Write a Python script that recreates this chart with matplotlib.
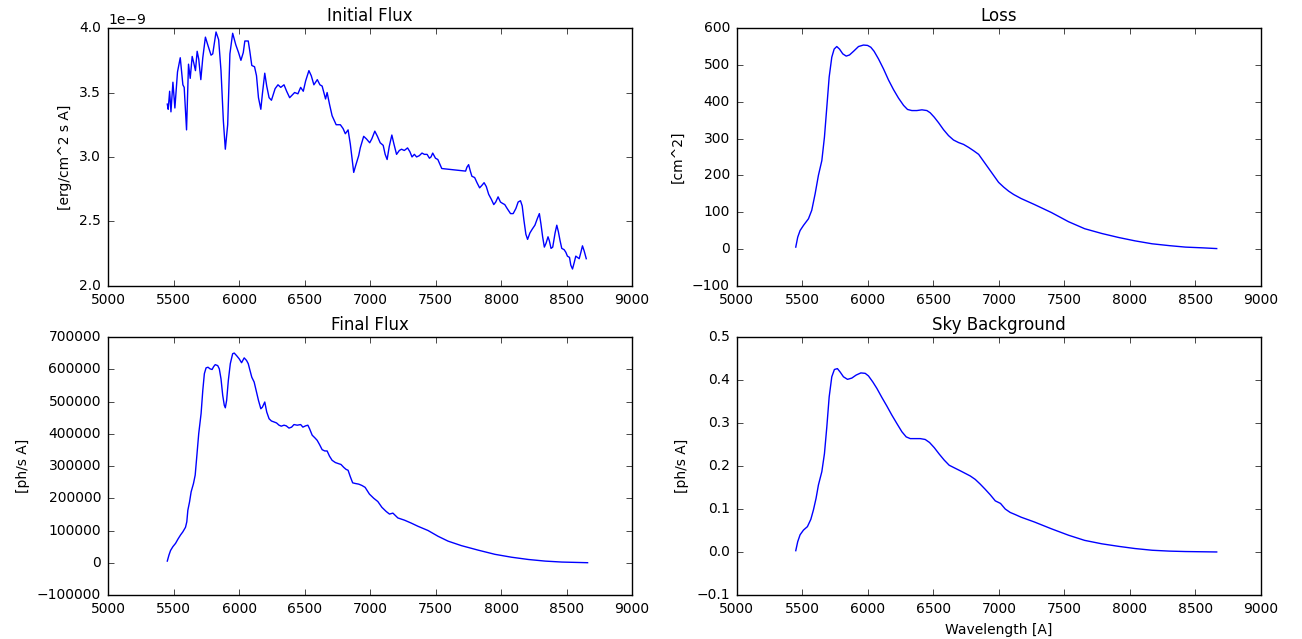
import numpy as np
import matplotlib
matplotlib.use("Agg")
import matplotlib.pyplot as plt

# initial flux (units of 1e-9 erg/cm^2 s A)
wave_init = [5452, 5459, 5470, 5480, 5495, 5510, 5530, 5551, 5571, 5581, 5599, 5614,
             5627, 5642, 5654, 5667, 5680, 5692, 5708, 5723, 5743, 5761, 5786, 5799,
             5824, 5844, 5862, 5880, 5895, 5913, 5930, 5951, 5975, 5996, 6014, 6032,
             6044, 6070, 6082, 6097, 6118, 6133, 6148, 6166, 6178, 6196, 6211, 6229,
             6247, 6275, 6297, 6318, 6343, 6363, 6386, 6424, 6449, 6470, 6490, 6508,
             6533, 6551, 6571, 6597, 6617, 6634, 6647, 6660, 6672, 6690, 6710, 6741,
             6773, 6794, 6811, 6832, 6849, 6875, 6892, 6913, 6925, 6951, 6972, 6997,
             7013, 7036, 7056, 7077, 7100, 7115, 7130, 7146, 7166, 7182, 7202, 7223,
             7240, 7261, 7286, 7304, 7320, 7338, 7355, 7376, 7396, 7414, 7435, 7453,
             7465, 7478, 7499, 7517, 7547, 7729, 7739, 7752, 7765, 7777, 7798, 7816,
             7836, 7854, 7870, 7887, 7905, 7926, 7944, 7959, 7977, 7995, 8010, 8028,
             8046, 8072, 8092, 8113, 8130, 8148, 8161, 8174, 8189, 8202, 8220, 8238,
             8258, 8276, 8292, 8304, 8317, 8330, 8343, 8358, 8368, 8381, 8394, 8412,
             8425, 8437, 8450, 8463, 8481, 8494, 8506, 8522, 8532, 8545, 8558, 8570,
             8583, 8596, 8609, 8621, 8634, 8650]
flux_init = [3.41, 3.37, 3.51, 3.35, 3.58, 3.38, 3.66, 3.77, 3.56, 3.54, 3.21, 3.72,
             3.61, 3.78, 3.73, 3.67, 3.82, 3.76, 3.60, 3.77, 3.93, 3.87, 3.79, 3.80,
             3.97, 3.91, 3.67, 3.28, 3.06, 3.25, 3.80, 3.96, 3.87, 3.81, 3.75, 3.81,
             3.90, 3.90, 3.82, 3.71, 3.70, 3.63, 3.46, 3.37, 3.49, 3.65, 3.55, 3.46,
             3.44, 3.53, 3.56, 3.54, 3.56, 3.51, 3.46, 3.50, 3.49, 3.54, 3.51, 3.59,
             3.67, 3.63, 3.56, 3.60, 3.56, 3.55, 3.50, 3.45, 3.50, 3.41, 3.32, 3.25,
             3.25, 3.22, 3.18, 3.21, 3.10, 2.88, 2.94, 3.01, 3.07, 3.16, 3.14, 3.11,
             3.14, 3.20, 3.16, 3.11, 3.09, 3.02, 2.98, 3.08, 3.17, 3.10, 3.02, 3.05,
             3.06, 3.05, 3.07, 3.04, 3.00, 3.02, 3.00, 3.01, 3.03, 3.02, 3.02, 2.99,
             3.00, 3.03, 2.99, 2.98, 2.91, 2.89, 2.92, 2.94, 2.89, 2.85, 2.84, 2.80,
             2.76, 2.78, 2.80, 2.77, 2.71, 2.67, 2.63, 2.65, 2.69, 2.65, 2.64, 2.63,
             2.60, 2.56, 2.56, 2.60, 2.65, 2.66, 2.62, 2.51, 2.40, 2.36, 2.41, 2.44,
             2.47, 2.52, 2.56, 2.48, 2.38, 2.30, 2.33, 2.38, 2.35, 2.29, 2.30, 2.41,
             2.47, 2.42, 2.35, 2.29, 2.28, 2.26, 2.23, 2.22, 2.16, 2.13, 2.18, 2.23,
             2.22, 2.21, 2.26, 2.31, 2.27, 2.21]

# loss [cm^2]
wave_loss = [5449, 5464, 5482, 5508, 5546, 5571, 5597, 5622, 5648, 5668, 5686, 5704,
             5724, 5742, 5762, 5783, 5808, 5834, 5859, 5890, 5928, 5966, 5997, 6022,
             6047, 6081, 6119, 6157, 6195, 6233, 6272, 6302, 6335, 6373, 6412, 6450,
             6475, 6506, 6539, 6577, 6615, 6653, 6692, 6730, 6768, 6806, 6845, 6883,
             6921, 6959, 6997, 7036, 7074, 7112, 7169, 7269, 7400, 7531, 7654, 7785,
             7915, 8038, 8169, 8300, 8423, 8554, 8662]
loss = [5, 32, 50, 64, 82, 105, 150, 200, 240, 304, 385, 467,
        521, 543, 550, 543, 530, 524, 527, 537, 550, 554, 553, 548,
        537, 516, 489, 459, 433, 410, 390, 379, 376, 376, 378, 376,
        370, 358, 343, 324, 308, 296, 289, 284, 276, 267, 257, 238,
        219, 200, 181, 168, 157, 148, 137, 121, 99, 74, 55, 42,
        31, 22, 14, 9, 5, 3, 1]

# final flux [ph/s A]
wave_final = [5452, 5465, 5477, 5495, 5515, 5533, 5553, 5571, 5591, 5601, 5609, 5622,
              5634, 5652, 5665, 5677, 5692, 5710, 5723, 5735, 5748, 5763, 5778, 5794,
              5806, 5818, 5837, 5849, 5862, 5875, 5887, 5895, 5905, 5918, 5933, 5951,
              5963, 5981, 6001, 6019, 6039, 6057, 6070, 6082, 6097, 6115, 6133, 6148,
              6166, 6178, 6196, 6211, 6229, 6247, 6267, 6286, 6305, 6322, 6343, 6360,
              6381, 6401, 6419, 6444, 6470, 6487, 6508, 6525, 6538, 6558, 6578, 6596,
              6614, 6634, 6654, 6672, 6690, 6710, 6735, 6756, 6778, 6799, 6816, 6832,
              6849, 6867, 6887, 6913, 6937, 6962, 6995, 7028, 7059, 7090, 7123, 7148,
              7174, 7212, 7263, 7314, 7366, 7442, 7519, 7595, 7697, 7825, 7953, 8080,
              8208, 8336, 8464, 8660]
final_flux = [5e3, 24e3, 38e3, 50e3, 60e3, 73e3, 86e3, 96e3, 110e3, 127e3, 163e3, 189e3,
              220e3, 246e3, 272e3, 329e3, 401e3, 463e3, 535e3, 587e3, 605e3, 607e3, 602e3, 600e3,
              609e3, 615e3, 612e3, 602e3, 571e3, 520e3, 489e3, 481e3, 504e3, 566e3, 618e3, 649e3,
              651e3, 643e3, 633e3, 621e3, 636e3, 628e3, 618e3, 599e3, 576e3, 561e3, 530e3, 504e3,
              478e3, 483e3, 499e3, 468e3, 447e3, 440e3, 437e3, 434e3, 427e3, 424e3, 427e3, 425e3,
              418e3, 421e3, 429e3, 427e3, 429e3, 421e3, 425e3, 427e3, 416e3, 396e3, 388e3, 380e3,
              367e3, 351e3, 347e3, 347e3, 331e3, 318e3, 311e3, 308e3, 305e3, 296e3, 290e3, 287e3,
              267e3, 248e3, 246e3, 244e3, 240e3, 234e3, 213e3, 200e3, 190e3, 172e3, 159e3, 151e3,
              154e3, 139e3, 132e3, 123e3, 113e3, 100e3, 82e3, 67e3, 53e3, 39e3, 26e3, 17e3,
              10e3, 5e3, 2e3, 0]

# sky background [ph/s A]
wave_sky = [5449, 5464, 5482, 5508, 5538, 5564, 5584, 5604, 5622, 5648, 5668, 5686,
            5704, 5724, 5744, 5767, 5788, 5813, 5844, 5877, 5910, 5946, 5979, 6004,
            6037, 6068, 6106, 6144, 6182, 6221, 6259, 6292, 6323, 6361, 6399, 6437,
            6470, 6506, 6544, 6582, 6620, 6659, 6705, 6743, 6781, 6819, 6857, 6895,
            6934, 6972, 7012, 7048, 7086, 7125, 7169, 7269, 7400, 7531, 7654, 7785,
            7915, 8038, 8169, 8300, 8423, 8662]
sky = [0.003, 0.024, 0.040, 0.051, 0.059, 0.076, 0.098, 0.125, 0.156, 0.187, 0.229, 0.291,
       0.361, 0.408, 0.425, 0.427, 0.419, 0.408, 0.402, 0.405, 0.412, 0.417, 0.416, 0.410,
       0.396, 0.381, 0.360, 0.340, 0.319, 0.299, 0.280, 0.268, 0.264, 0.264, 0.264, 0.262,
       0.255, 0.243, 0.228, 0.214, 0.202, 0.196, 0.189, 0.183, 0.177, 0.169, 0.158, 0.146,
       0.133, 0.119, 0.113, 0.100, 0.092, 0.087, 0.081, 0.070, 0.054, 0.039, 0.027, 0.019,
       0.013, 0.008, 0.004, 0.002, 0.001, 0.0]

plt.style.use("classic")
plt.rcParams["figure.facecolor"] = "white"
plt.rcParams["font.size"] = 10
plt.rcParams["xtick.major.pad"] = 5
plt.rcParams["ytick.major.pad"] = 5

fig = plt.figure(figsize=(13.02, 6.39), dpi=100)
fig.subplots_adjust(left=0.083, right=0.9685, top=0.956, bottom=0.069,
                    wspace=0.2, hspace=0.2)

ax1 = fig.add_subplot(2, 2, 1)
ax1.plot(wave_init, np.array(flux_init) * 1e-9, "b")
ax1.set_title("Initial Flux")
ax1.set_ylabel("[erg/cm^2 s A]")
ax1.set_xlim(5000, 9000)
ax1.set_ylim(2.0e-9, 4.0e-9)

ax2 = fig.add_subplot(2, 2, 2)
ax2.plot(wave_loss, loss, "b")
ax2.set_title("Loss")
ax2.set_ylabel("[cm^2]")
ax2.set_xlim(5000, 9000)
ax2.set_ylim(-100, 600)

ax3 = fig.add_subplot(2, 2, 3)
ax3.plot(wave_final, final_flux, "b")
ax3.set_title("Final Flux")
ax3.set_ylabel("[ph/s A]")
ax3.set_xlim(5000, 9000)
ax3.set_ylim(-100000, 700000)

ax4 = fig.add_subplot(2, 2, 4)
ax4.plot(wave_sky, sky, "b")
ax4.set_title("Sky Background")
ax4.set_ylabel("[ph/s A]")
ax4.set_xlabel("Wavelength [A]")
ax4.set_xlim(5000, 9000)
ax4.set_ylim(-0.1, 0.5)

fig.savefig("out.png", dpi=100, facecolor="white")
